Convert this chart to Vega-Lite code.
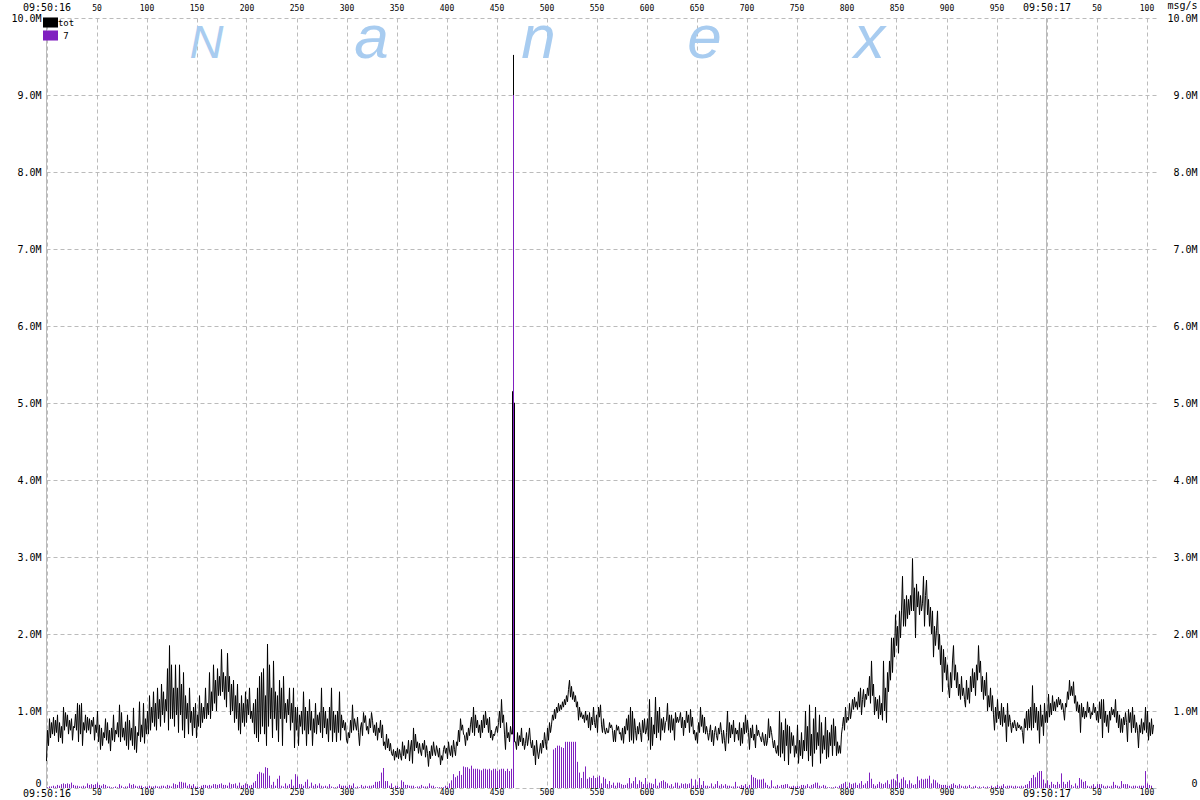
{"$schema":"https://vega.github.io/schema/vega-lite/v6.json","width":1110,"height":770,"autosize":"none","padding":{"left":46,"top":18,"right":44,"bottom":12},"background":"white","config":{"view":{"stroke":null},"font":"DejaVu Sans Mono"},
"datasets":{
"tot":[{"t":0,"v":0.35},{"t":1,"v":0.75},{"t":2,"v":0.55},{"t":3,"v":0.9},{"t":4,"v":0.65},{"t":5,"v":0.85},{"t":6,"v":0.7},{"t":7,"v":0.92},{"t":8,"v":0.68},{"t":9,"v":0.88},{"t":10,"v":0.72},{"t":11,"v":0.95},{"t":12,"v":0.6},{"t":13,"v":0.85},{"t":14,"v":0.65},{"t":15,"v":0.8},{"t":16,"v":0.58},{"t":17,"v":1.05},{"t":18,"v":0.75},{"t":19,"v":0.98},{"t":20,"v":0.8},{"t":21,"v":0.95},{"t":22,"v":0.7},{"t":23,"v":0.88},{"t":24,"v":0.75},{"t":25,"v":0.9},{"t":26,"v":0.62},{"t":27,"v":0.8},{"t":28,"v":0.78},{"t":29,"v":0.96},{"t":30,"v":0.75},{"t":31,"v":1.1},{"t":32,"v":0.6},{"t":33,"v":1.08},{"t":34,"v":0.7},{"t":35,"v":1.1},{"t":36,"v":0.55},{"t":37,"v":0.85},{"t":38,"v":0.75},{"t":39,"v":0.95},{"t":40,"v":0.72},{"t":41,"v":0.92},{"t":42,"v":0.75},{"t":43,"v":0.9},{"t":44,"v":0.7},{"t":45,"v":0.88},{"t":46,"v":0.8},{"t":47,"v":0.92},{"t":48,"v":0.62},{"t":49,"v":0.82},{"t":50,"v":0.72},{"t":51,"v":1.0},{"t":52,"v":0.6},{"t":53,"v":0.82},{"t":54,"v":0.5},{"t":55,"v":0.78},{"t":56,"v":0.55},{"t":57,"v":0.72},{"t":58,"v":0.65},{"t":59,"v":0.9},{"t":60,"v":0.62},{"t":61,"v":0.85},{"t":62,"v":0.58},{"t":63,"v":0.75},{"t":64,"v":0.48},{"t":65,"v":0.78},{"t":66,"v":0.62},{"t":67,"v":0.95},{"t":68,"v":0.6},{"t":69,"v":0.75},{"t":70,"v":0.7},{"t":71,"v":0.85},{"t":72,"v":0.66},{"t":73,"v":1.08},{"t":74,"v":0.6},{"t":75,"v":0.98},{"t":76,"v":0.66},{"t":77,"v":0.78},{"t":78,"v":0.62},{"t":79,"v":0.86},{"t":80,"v":0.55},{"t":81,"v":0.95},{"t":82,"v":0.5},{"t":83,"v":0.88},{"t":84,"v":0.62},{"t":85,"v":0.78},{"t":86,"v":0.55},{"t":87,"v":1.04},{"t":88,"v":0.5},{"t":89,"v":0.8},{"t":90,"v":0.46},{"t":91,"v":0.72},{"t":92,"v":0.68},{"t":93,"v":1.12},{"t":94,"v":0.6},{"t":95,"v":0.82},{"t":96,"v":0.66},{"t":97,"v":1.1},{"t":98,"v":0.58},{"t":99,"v":0.9},{"t":100,"v":0.7},{"t":101,"v":1.0},{"t":102,"v":0.7},{"t":103,"v":1.2},{"t":104,"v":0.75},{"t":105,"v":1.05},{"t":106,"v":0.85},{"t":107,"v":1.25},{"t":108,"v":0.8},{"t":109,"v":1.1},{"t":110,"v":0.75},{"t":111,"v":1.3},{"t":112,"v":0.9},{"t":113,"v":1.15},{"t":114,"v":0.8},{"t":115,"v":1.35},{"t":116,"v":0.95},{"t":117,"v":1.25},{"t":118,"v":0.85},{"t":119,"v":1.15},{"t":120,"v":1.0},{"t":121,"v":1.55},{"t":122,"v":0.75},{"t":123,"v":1.85},{"t":124,"v":0.9},{"t":125,"v":1.6},{"t":126,"v":0.9},{"t":127,"v":1.3},{"t":128,"v":0.8},{"t":129,"v":1.6},{"t":130,"v":0.95},{"t":131,"v":1.3},{"t":132,"v":0.72},{"t":133,"v":1.6},{"t":134,"v":0.95},{"t":135,"v":1.35},{"t":136,"v":0.75},{"t":137,"v":1.5},{"t":138,"v":0.65},{"t":139,"v":1.2},{"t":140,"v":0.9},{"t":141,"v":1.1},{"t":142,"v":0.7},{"t":143,"v":1.3},{"t":144,"v":0.85},{"t":145,"v":1.0},{"t":146,"v":0.68},{"t":147,"v":1.05},{"t":148,"v":0.78},{"t":149,"v":1.1},{"t":150,"v":0.65},{"t":151,"v":0.95},{"t":152,"v":0.8},{"t":153,"v":1.2},{"t":154,"v":0.78},{"t":155,"v":1.1},{"t":156,"v":0.85},{"t":157,"v":1.05},{"t":158,"v":0.9},{"t":159,"v":1.3},{"t":160,"v":0.9},{"t":161,"v":1.1},{"t":162,"v":0.95},{"t":163,"v":1.5},{"t":164,"v":0.9},{"t":165,"v":1.25},{"t":166,"v":1.0},{"t":167,"v":1.6},{"t":168,"v":1.1},{"t":169,"v":1.4},{"t":170,"v":1.0},{"t":171,"v":1.55},{"t":172,"v":1.2},{"t":173,"v":1.45},{"t":174,"v":1.2},{"t":175,"v":1.8},{"t":176,"v":1.25},{"t":177,"v":1.5},{"t":178,"v":1.15},{"t":179,"v":1.45},{"t":180,"v":1.05},{"t":181,"v":1.75},{"t":182,"v":1.25},{"t":183,"v":1.45},{"t":184,"v":0.95},{"t":185,"v":1.35},{"t":186,"v":1.0},{"t":187,"v":1.4},{"t":188,"v":0.85},{"t":189,"v":1.2},{"t":190,"v":0.9},{"t":191,"v":1.35},{"t":192,"v":0.75},{"t":193,"v":1.1},{"t":194,"v":0.7},{"t":195,"v":1.2},{"t":196,"v":0.85},{"t":197,"v":1.1},{"t":198,"v":0.8},{"t":199,"v":1.25},{"t":200,"v":0.85},{"t":201,"v":1.15},{"t":202,"v":0.95},{"t":203,"v":1.3},{"t":204,"v":0.9},{"t":205,"v":1.0},{"t":206,"v":0.85},{"t":207,"v":1.1},{"t":208,"v":0.7},{"t":209,"v":1.15},{"t":210,"v":0.65},{"t":211,"v":1.3},{"t":212,"v":0.6},{"t":213,"v":1.45},{"t":214,"v":0.7},{"t":215,"v":1.5},{"t":216,"v":0.8},{"t":217,"v":1.55},{"t":218,"v":0.7},{"t":219,"v":1.2},{"t":220,"v":0.55},{"t":221,"v":1.87},{"t":222,"v":0.8},{"t":223,"v":1.6},{"t":224,"v":0.9},{"t":225,"v":1.3},{"t":226,"v":0.65},{"t":227,"v":1.65},{"t":228,"v":0.9},{"t":229,"v":1.25},{"t":230,"v":0.75},{"t":231,"v":1.2},{"t":232,"v":0.6},{"t":233,"v":1.4},{"t":234,"v":0.9},{"t":235,"v":1.3},{"t":236,"v":0.55},{"t":237,"v":1.45},{"t":238,"v":0.9},{"t":239,"v":1.1},{"t":240,"v":0.85},{"t":241,"v":1.15},{"t":242,"v":0.95},{"t":243,"v":1.3},{"t":244,"v":0.75},{"t":245,"v":1.1},{"t":246,"v":0.85},{"t":247,"v":1.3},{"t":248,"v":0.52},{"t":249,"v":1.05},{"t":250,"v":0.75},{"t":251,"v":1.05},{"t":252,"v":0.55},{"t":253,"v":0.95},{"t":254,"v":0.8},{"t":255,"v":1.0},{"t":256,"v":0.7},{"t":257,"v":1.25},{"t":258,"v":0.75},{"t":259,"v":1.05},{"t":260,"v":0.55},{"t":261,"v":1.0},{"t":262,"v":0.7},{"t":263,"v":1.15},{"t":264,"v":0.75},{"t":265,"v":1.0},{"t":266,"v":0.55},{"t":267,"v":0.9},{"t":268,"v":0.72},{"t":269,"v":1.1},{"t":270,"v":0.7},{"t":271,"v":0.95},{"t":272,"v":0.82},{"t":273,"v":0.98},{"t":274,"v":0.72},{"t":275,"v":1.3},{"t":276,"v":0.65},{"t":277,"v":1.05},{"t":278,"v":0.78},{"t":279,"v":1.0},{"t":280,"v":0.7},{"t":281,"v":0.9},{"t":282,"v":0.6},{"t":283,"v":1.05},{"t":284,"v":0.75},{"t":285,"v":1.3},{"t":286,"v":0.6},{"t":287,"v":1.0},{"t":288,"v":0.72},{"t":289,"v":0.95},{"t":290,"v":0.6},{"t":291,"v":1.0},{"t":292,"v":0.72},{"t":293,"v":1.25},{"t":294,"v":0.62},{"t":295,"v":0.95},{"t":296,"v":0.78},{"t":297,"v":0.88},{"t":298,"v":0.75},{"t":299,"v":0.85},{"t":300,"v":0.62},{"t":301,"v":0.58},{"t":302,"v":0.72},{"t":303,"v":0.65},{"t":304,"v":0.88},{"t":305,"v":0.72},{"t":306,"v":1.08},{"t":307,"v":0.75},{"t":308,"v":0.9},{"t":309,"v":0.82},{"t":310,"v":0.75},{"t":311,"v":0.92},{"t":312,"v":0.72},{"t":313,"v":0.55},{"t":314,"v":0.78},{"t":315,"v":0.85},{"t":316,"v":0.68},{"t":317,"v":0.98},{"t":318,"v":0.85},{"t":319,"v":0.94},{"t":320,"v":0.75},{"t":321,"v":0.8},{"t":322,"v":0.7},{"t":323,"v":0.9},{"t":324,"v":0.78},{"t":325,"v":0.98},{"t":326,"v":0.88},{"t":327,"v":0.72},{"t":328,"v":0.82},{"t":329,"v":0.68},{"t":330,"v":0.85},{"t":331,"v":0.62},{"t":332,"v":0.78},{"t":333,"v":0.72},{"t":334,"v":0.88},{"t":335,"v":0.65},{"t":336,"v":0.82},{"t":337,"v":0.55},{"t":338,"v":0.6},{"t":339,"v":0.5},{"t":340,"v":0.7},{"t":341,"v":0.52},{"t":342,"v":0.64},{"t":343,"v":0.48},{"t":344,"v":0.58},{"t":345,"v":0.45},{"t":346,"v":0.42},{"t":347,"v":0.5},{"t":348,"v":0.36},{"t":349,"v":0.48},{"t":350,"v":0.4},{"t":351,"v":0.52},{"t":352,"v":0.38},{"t":353,"v":0.5},{"t":354,"v":0.42},{"t":355,"v":0.36},{"t":356,"v":0.6},{"t":357,"v":0.42},{"t":358,"v":0.55},{"t":359,"v":0.38},{"t":360,"v":0.5},{"t":361,"v":0.45},{"t":362,"v":0.62},{"t":363,"v":0.35},{"t":364,"v":0.52},{"t":365,"v":0.62},{"t":366,"v":0.32},{"t":367,"v":0.78},{"t":368,"v":0.48},{"t":369,"v":0.7},{"t":370,"v":0.52},{"t":371,"v":0.6},{"t":372,"v":0.45},{"t":373,"v":0.58},{"t":374,"v":0.48},{"t":375,"v":0.42},{"t":376,"v":0.58},{"t":377,"v":0.5},{"t":378,"v":0.62},{"t":379,"v":0.4},{"t":380,"v":0.55},{"t":381,"v":0.45},{"t":382,"v":0.28},{"t":383,"v":0.48},{"t":384,"v":0.38},{"t":385,"v":0.55},{"t":386,"v":0.42},{"t":387,"v":0.6},{"t":388,"v":0.48},{"t":389,"v":0.42},{"t":390,"v":0.55},{"t":391,"v":0.48},{"t":392,"v":0.4},{"t":393,"v":0.52},{"t":394,"v":0.3},{"t":395,"v":0.42},{"t":396,"v":0.36},{"t":397,"v":0.5},{"t":398,"v":0.55},{"t":399,"v":0.45},{"t":400,"v":0.52},{"t":401,"v":0.38},{"t":402,"v":0.6},{"t":403,"v":0.48},{"t":404,"v":0.42},{"t":405,"v":0.55},{"t":406,"v":0.4},{"t":407,"v":0.62},{"t":408,"v":0.5},{"t":409,"v":0.42},{"t":410,"v":0.6},{"t":411,"v":0.55},{"t":412,"v":0.75},{"t":413,"v":0.6},{"t":414,"v":0.9},{"t":415,"v":0.75},{"t":416,"v":0.82},{"t":417,"v":0.7},{"t":418,"v":0.68},{"t":419,"v":0.55},{"t":420,"v":0.72},{"t":421,"v":0.62},{"t":422,"v":0.78},{"t":423,"v":0.68},{"t":424,"v":0.82},{"t":425,"v":0.92},{"t":426,"v":0.72},{"t":427,"v":1.05},{"t":428,"v":0.68},{"t":429,"v":0.95},{"t":430,"v":0.78},{"t":431,"v":0.88},{"t":432,"v":0.72},{"t":433,"v":0.82},{"t":434,"v":0.65},{"t":435,"v":0.88},{"t":436,"v":0.72},{"t":437,"v":0.95},{"t":438,"v":0.78},{"t":439,"v":1.0},{"t":440,"v":0.82},{"t":441,"v":0.9},{"t":442,"v":0.72},{"t":443,"v":0.92},{"t":444,"v":0.65},{"t":445,"v":0.75},{"t":446,"v":0.62},{"t":447,"v":0.7},{"t":448,"v":0.68},{"t":449,"v":0.75},{"t":450,"v":0.8},{"t":451,"v":0.72},{"t":452,"v":0.85},{"t":453,"v":1.0},{"t":454,"v":0.78},{"t":455,"v":1.15},{"t":456,"v":0.85},{"t":457,"v":0.95},{"t":458,"v":0.7},{"t":459,"v":0.5},{"t":460,"v":0.85},{"t":461,"v":0.65},{"t":462,"v":0.72},{"t":463,"v":0.6},{"t":464,"v":0.8},{"t":465,"v":0.7},{"t":466,"v":0.7},{"t":466,"v":5.15},{"t":467,"v":5.15},{"t":467,"v":9.52},{"t":467,"v":5.0},{"t":468,"v":5.0},{"t":468,"v":0.6},{"t":469,"v":0.6},{"t":470,"v":0.5},{"t":471,"v":0.72},{"t":472,"v":0.55},{"t":473,"v":0.68},{"t":474,"v":0.6},{"t":475,"v":0.78},{"t":476,"v":0.55},{"t":477,"v":0.65},{"t":478,"v":0.5},{"t":479,"v":0.58},{"t":480,"v":0.72},{"t":481,"v":0.55},{"t":482,"v":0.65},{"t":483,"v":0.78},{"t":484,"v":0.6},{"t":485,"v":0.52},{"t":486,"v":0.62},{"t":487,"v":0.42},{"t":488,"v":0.55},{"t":489,"v":0.3},{"t":490,"v":0.62},{"t":491,"v":0.48},{"t":492,"v":0.38},{"t":493,"v":0.48},{"t":494,"v":0.58},{"t":495,"v":0.45},{"t":496,"v":0.62},{"t":497,"v":0.52},{"t":498,"v":0.72},{"t":499,"v":0.6},{"t":500,"v":0.5},{"t":501,"v":0.78},{"t":502,"v":0.62},{"t":503,"v":0.85},{"t":504,"v":0.72},{"t":505,"v":0.82},{"t":506,"v":0.95},{"t":507,"v":0.88},{"t":508,"v":1.02},{"t":509,"v":0.9},{"t":510,"v":1.05},{"t":511,"v":0.98},{"t":512,"v":1.1},{"t":513,"v":1.0},{"t":514,"v":1.08},{"t":515,"v":1.02},{"t":516,"v":1.12},{"t":517,"v":1.05},{"t":518,"v":1.15},{"t":519,"v":1.08},{"t":520,"v":1.2},{"t":521,"v":1.12},{"t":522,"v":1.28},{"t":523,"v":1.4},{"t":524,"v":1.18},{"t":525,"v":1.32},{"t":526,"v":1.15},{"t":527,"v":1.25},{"t":528,"v":1.12},{"t":529,"v":1.2},{"t":530,"v":1.05},{"t":531,"v":1.12},{"t":532,"v":0.88},{"t":533,"v":1.05},{"t":534,"v":0.92},{"t":535,"v":0.98},{"t":536,"v":0.9},{"t":537,"v":0.95},{"t":538,"v":0.85},{"t":539,"v":1.0},{"t":540,"v":0.88},{"t":541,"v":0.95},{"t":542,"v":0.78},{"t":543,"v":0.98},{"t":544,"v":0.75},{"t":545,"v":0.92},{"t":546,"v":0.82},{"t":547,"v":1.05},{"t":548,"v":0.85},{"t":549,"v":0.78},{"t":550,"v":0.95},{"t":551,"v":0.72},{"t":552,"v":1.05},{"t":553,"v":0.92},{"t":554,"v":1.08},{"t":555,"v":0.82},{"t":556,"v":0.72},{"t":557,"v":0.9},{"t":558,"v":0.75},{"t":559,"v":0.7},{"t":560,"v":0.78},{"t":561,"v":0.72},{"t":562,"v":0.72},{"t":563,"v":0.85},{"t":564,"v":0.78},{"t":565,"v":0.82},{"t":566,"v":0.75},{"t":567,"v":0.6},{"t":568,"v":0.75},{"t":569,"v":0.6},{"t":570,"v":0.82},{"t":571,"v":0.75},{"t":572,"v":0.8},{"t":573,"v":0.7},{"t":574,"v":0.72},{"t":575,"v":0.62},{"t":576,"v":0.78},{"t":577,"v":0.58},{"t":578,"v":0.8},{"t":579,"v":0.7},{"t":580,"v":0.9},{"t":581,"v":0.75},{"t":582,"v":0.95},{"t":583,"v":0.6},{"t":584,"v":1.05},{"t":585,"v":0.62},{"t":586,"v":1.0},{"t":587,"v":0.58},{"t":588,"v":0.9},{"t":589,"v":0.75},{"t":590,"v":0.62},{"t":591,"v":0.8},{"t":592,"v":0.7},{"t":593,"v":0.85},{"t":594,"v":0.72},{"t":595,"v":0.6},{"t":596,"v":0.88},{"t":597,"v":0.72},{"t":598,"v":0.9},{"t":599,"v":0.7},{"t":600,"v":0.75},{"t":601,"v":0.9},{"t":602,"v":0.62},{"t":603,"v":1.15},{"t":604,"v":0.5},{"t":605,"v":0.92},{"t":606,"v":0.55},{"t":607,"v":0.82},{"t":608,"v":0.7},{"t":609,"v":1.18},{"t":610,"v":0.65},{"t":611,"v":1.0},{"t":612,"v":0.72},{"t":613,"v":1.05},{"t":614,"v":0.62},{"t":615,"v":0.9},{"t":616,"v":0.75},{"t":617,"v":0.92},{"t":618,"v":0.72},{"t":619,"v":0.85},{"t":620,"v":0.88},{"t":621,"v":1.1},{"t":622,"v":0.75},{"t":623,"v":0.95},{"t":624,"v":0.72},{"t":625,"v":0.95},{"t":626,"v":0.75},{"t":627,"v":0.9},{"t":628,"v":0.62},{"t":629,"v":0.98},{"t":630,"v":0.85},{"t":631,"v":0.92},{"t":632,"v":0.85},{"t":633,"v":0.9},{"t":634,"v":0.98},{"t":635,"v":0.78},{"t":636,"v":0.92},{"t":637,"v":0.68},{"t":638,"v":0.88},{"t":639,"v":0.78},{"t":640,"v":1.0},{"t":641,"v":0.85},{"t":642,"v":0.95},{"t":643,"v":0.72},{"t":644,"v":1.02},{"t":645,"v":0.8},{"t":646,"v":0.92},{"t":647,"v":0.7},{"t":648,"v":0.75},{"t":649,"v":0.62},{"t":650,"v":0.72},{"t":651,"v":0.58},{"t":652,"v":0.85},{"t":653,"v":0.72},{"t":654,"v":1.05},{"t":655,"v":0.8},{"t":656,"v":0.95},{"t":657,"v":0.72},{"t":658,"v":0.92},{"t":659,"v":0.7},{"t":660,"v":0.8},{"t":661,"v":0.72},{"t":662,"v":0.62},{"t":663,"v":0.72},{"t":664,"v":0.82},{"t":665,"v":0.6},{"t":666,"v":0.75},{"t":667,"v":0.55},{"t":668,"v":0.72},{"t":669,"v":0.8},{"t":670,"v":0.68},{"t":671,"v":0.62},{"t":672,"v":0.78},{"t":673,"v":0.7},{"t":674,"v":0.85},{"t":675,"v":0.72},{"t":676,"v":0.58},{"t":677,"v":0.75},{"t":678,"v":0.62},{"t":679,"v":0.48},{"t":680,"v":0.72},{"t":681,"v":1.0},{"t":682,"v":0.58},{"t":683,"v":0.85},{"t":684,"v":0.65},{"t":685,"v":0.82},{"t":686,"v":0.7},{"t":687,"v":0.88},{"t":688,"v":0.6},{"t":689,"v":0.78},{"t":690,"v":0.7},{"t":691,"v":0.75},{"t":692,"v":0.62},{"t":693,"v":0.85},{"t":694,"v":0.55},{"t":695,"v":0.78},{"t":696,"v":0.58},{"t":697,"v":0.85},{"t":698,"v":0.7},{"t":699,"v":0.95},{"t":700,"v":0.72},{"t":701,"v":0.88},{"t":702,"v":0.72},{"t":703,"v":0.5},{"t":704,"v":0.78},{"t":705,"v":0.65},{"t":706,"v":0.82},{"t":707,"v":0.62},{"t":708,"v":0.7},{"t":709,"v":0.52},{"t":710,"v":0.82},{"t":711,"v":0.68},{"t":712,"v":0.75},{"t":713,"v":0.68},{"t":714,"v":0.65},{"t":715,"v":0.6},{"t":716,"v":0.72},{"t":717,"v":0.62},{"t":718,"v":0.55},{"t":719,"v":0.7},{"t":720,"v":0.55},{"t":721,"v":0.62},{"t":722,"v":0.9},{"t":723,"v":0.65},{"t":724,"v":0.8},{"t":725,"v":0.72},{"t":726,"v":0.62},{"t":727,"v":0.52},{"t":728,"v":0.62},{"t":729,"v":0.5},{"t":730,"v":0.45},{"t":731,"v":0.55},{"t":732,"v":0.42},{"t":733,"v":1.0},{"t":734,"v":0.4},{"t":735,"v":0.85},{"t":736,"v":0.45},{"t":737,"v":0.75},{"t":738,"v":0.35},{"t":739,"v":0.9},{"t":740,"v":0.55},{"t":741,"v":0.82},{"t":742,"v":0.3},{"t":743,"v":0.8},{"t":744,"v":0.45},{"t":745,"v":0.72},{"t":746,"v":0.55},{"t":747,"v":0.68},{"t":748,"v":0.4},{"t":749,"v":0.55},{"t":750,"v":0.45},{"t":751,"v":0.82},{"t":752,"v":0.32},{"t":753,"v":0.62},{"t":754,"v":0.42},{"t":755,"v":0.72},{"t":756,"v":0.38},{"t":757,"v":0.62},{"t":758,"v":0.48},{"t":759,"v":1.0},{"t":760,"v":0.48},{"t":761,"v":0.8},{"t":762,"v":0.35},{"t":763,"v":1.08},{"t":764,"v":0.42},{"t":765,"v":0.7},{"t":766,"v":0.28},{"t":767,"v":0.9},{"t":768,"v":0.45},{"t":769,"v":1.05},{"t":770,"v":0.5},{"t":771,"v":0.72},{"t":772,"v":0.55},{"t":773,"v":0.95},{"t":774,"v":0.32},{"t":775,"v":0.85},{"t":776,"v":0.45},{"t":777,"v":0.68},{"t":778,"v":0.5},{"t":779,"v":0.92},{"t":780,"v":0.38},{"t":781,"v":0.75},{"t":782,"v":0.4},{"t":783,"v":0.72},{"t":784,"v":0.55},{"t":785,"v":0.82},{"t":786,"v":0.42},{"t":787,"v":0.9},{"t":788,"v":0.55},{"t":789,"v":0.8},{"t":790,"v":0.42},{"t":791,"v":0.6},{"t":792,"v":0.45},{"t":793,"v":0.55},{"t":794,"v":0.45},{"t":795,"v":0.7},{"t":796,"v":0.8},{"t":797,"v":0.92},{"t":798,"v":0.75},{"t":799,"v":1.05},{"t":800,"v":0.85},{"t":801,"v":0.92},{"t":802,"v":0.88},{"t":803,"v":1.1},{"t":804,"v":0.9},{"t":805,"v":1.0},{"t":806,"v":1.15},{"t":807,"v":1.02},{"t":808,"v":1.18},{"t":809,"v":1.05},{"t":810,"v":1.12},{"t":811,"v":1.02},{"t":812,"v":1.25},{"t":813,"v":1.05},{"t":814,"v":1.3},{"t":815,"v":0.95},{"t":816,"v":1.15},{"t":817,"v":1.28},{"t":818,"v":1.05},{"t":819,"v":1.22},{"t":820,"v":1.15},{"t":821,"v":1.3},{"t":822,"v":1.2},{"t":823,"v":1.45},{"t":824,"v":1.1},{"t":825,"v":1.65},{"t":826,"v":1.2},{"t":827,"v":1.35},{"t":828,"v":0.95},{"t":829,"v":1.18},{"t":830,"v":1.0},{"t":831,"v":1.15},{"t":832,"v":0.9},{"t":833,"v":1.2},{"t":834,"v":0.95},{"t":835,"v":1.1},{"t":836,"v":0.88},{"t":837,"v":1.65},{"t":838,"v":1.0},{"t":839,"v":1.3},{"t":840,"v":0.85},{"t":841,"v":1.5},{"t":842,"v":1.25},{"t":843,"v":1.65},{"t":844,"v":1.4},{"t":845,"v":1.95},{"t":846,"v":1.5},{"t":847,"v":1.95},{"t":848,"v":1.7},{"t":849,"v":2.25},{"t":850,"v":1.85},{"t":851,"v":2.1},{"t":852,"v":1.75},{"t":853,"v":2.3},{"t":854,"v":1.95},{"t":855,"v":2.3},{"t":856,"v":2.75},{"t":857,"v":2.1},{"t":858,"v":2.45},{"t":859,"v":2.1},{"t":860,"v":2.5},{"t":861,"v":2.2},{"t":862,"v":2.45},{"t":863,"v":2.25},{"t":864,"v":2.5},{"t":865,"v":2.3},{"t":866,"v":2.98},{"t":867,"v":2.3},{"t":868,"v":2.6},{"t":869,"v":1.95},{"t":870,"v":2.65},{"t":871,"v":2.35},{"t":872,"v":2.55},{"t":873,"v":2.25},{"t":874,"v":2.5},{"t":875,"v":2.3},{"t":876,"v":2.4},{"t":877,"v":2.75},{"t":878,"v":2.1},{"t":879,"v":2.5},{"t":880,"v":2.7},{"t":881,"v":2.25},{"t":882,"v":2.45},{"t":883,"v":2.1},{"t":884,"v":2.35},{"t":885,"v":2.0},{"t":886,"v":2.3},{"t":887,"v":1.7},{"t":888,"v":2.1},{"t":889,"v":1.85},{"t":890,"v":2.05},{"t":891,"v":2.3},{"t":892,"v":1.8},{"t":893,"v":2.0},{"t":894,"v":1.6},{"t":895,"v":1.85},{"t":896,"v":1.25},{"t":897,"v":1.8},{"t":898,"v":1.5},{"t":899,"v":1.7},{"t":900,"v":1.4},{"t":901,"v":1.6},{"t":902,"v":1.3},{"t":903,"v":1.17},{"t":904,"v":1.5},{"t":905,"v":1.3},{"t":906,"v":1.65},{"t":907,"v":1.85},{"t":908,"v":1.4},{"t":909,"v":1.6},{"t":910,"v":1.3},{"t":911,"v":1.5},{"t":912,"v":1.2},{"t":913,"v":1.35},{"t":914,"v":1.15},{"t":915,"v":1.45},{"t":916,"v":1.2},{"t":917,"v":1.3},{"t":918,"v":1.15},{"t":919,"v":1.05},{"t":920,"v":1.4},{"t":921,"v":1.15},{"t":922,"v":1.3},{"t":923,"v":1.1},{"t":924,"v":1.45},{"t":925,"v":1.25},{"t":926,"v":1.55},{"t":927,"v":1.3},{"t":928,"v":1.5},{"t":929,"v":1.2},{"t":930,"v":1.6},{"t":931,"v":1.4},{"t":932,"v":1.85},{"t":933,"v":1.5},{"t":934,"v":1.65},{"t":935,"v":1.25},{"t":936,"v":1.45},{"t":937,"v":1.15},{"t":938,"v":1.4},{"t":939,"v":1.2},{"t":940,"v":1.5},{"t":941,"v":1.0},{"t":942,"v":1.2},{"t":943,"v":1.05},{"t":944,"v":1.3},{"t":945,"v":1.0},{"t":946,"v":1.2},{"t":947,"v":0.95},{"t":948,"v":0.75},{"t":949,"v":1.05},{"t":950,"v":0.85},{"t":951,"v":1.15},{"t":952,"v":0.9},{"t":953,"v":1.0},{"t":954,"v":0.82},{"t":955,"v":1.1},{"t":956,"v":0.8},{"t":957,"v":1.05},{"t":958,"v":0.85},{"t":959,"v":0.95},{"t":960,"v":0.6},{"t":961,"v":1.1},{"t":962,"v":0.8},{"t":963,"v":0.95},{"t":964,"v":0.85},{"t":965,"v":0.72},{"t":966,"v":0.85},{"t":967,"v":0.78},{"t":968,"v":0.88},{"t":969,"v":0.8},{"t":970,"v":0.74},{"t":971,"v":0.85},{"t":972,"v":0.78},{"t":973,"v":0.82},{"t":974,"v":0.76},{"t":975,"v":0.8},{"t":976,"v":0.72},{"t":977,"v":0.58},{"t":978,"v":0.9},{"t":979,"v":0.78},{"t":980,"v":1.0},{"t":981,"v":0.75},{"t":982,"v":1.02},{"t":983,"v":0.78},{"t":984,"v":1.05},{"t":985,"v":0.75},{"t":986,"v":1.33},{"t":987,"v":0.78},{"t":988,"v":1.1},{"t":989,"v":0.85},{"t":990,"v":1.05},{"t":991,"v":0.75},{"t":992,"v":1.0},{"t":993,"v":0.58},{"t":994,"v":1.08},{"t":995,"v":0.8},{"t":996,"v":0.95},{"t":997,"v":0.68},{"t":998,"v":1.1},{"t":999,"v":0.85},{"t":1000,"v":1.0},{"t":1001,"v":0.85},{"t":1002,"v":1.22},{"t":1003,"v":0.92},{"t":1004,"v":1.1},{"t":1005,"v":0.95},{"t":1006,"v":1.2},{"t":1007,"v":1.0},{"t":1008,"v":1.12},{"t":1009,"v":1.0},{"t":1010,"v":1.15},{"t":1011,"v":1.05},{"t":1012,"v":1.18},{"t":1013,"v":1.08},{"t":1014,"v":1.15},{"t":1015,"v":1.02},{"t":1016,"v":1.1},{"t":1017,"v":1.0},{"t":1018,"v":0.88},{"t":1019,"v":1.1},{"t":1020,"v":1.05},{"t":1021,"v":1.25},{"t":1022,"v":1.15},{"t":1023,"v":1.4},{"t":1024,"v":1.2},{"t":1025,"v":1.32},{"t":1026,"v":1.2},{"t":1027,"v":1.38},{"t":1028,"v":1.1},{"t":1029,"v":1.2},{"t":1030,"v":1.0},{"t":1031,"v":1.12},{"t":1032,"v":0.98},{"t":1033,"v":1.08},{"t":1034,"v":0.72},{"t":1035,"v":1.1},{"t":1036,"v":0.92},{"t":1037,"v":1.05},{"t":1038,"v":0.9},{"t":1039,"v":1.0},{"t":1040,"v":0.92},{"t":1041,"v":1.12},{"t":1042,"v":0.98},{"t":1043,"v":1.05},{"t":1044,"v":0.9},{"t":1045,"v":0.98},{"t":1046,"v":0.95},{"t":1047,"v":1.1},{"t":1048,"v":0.98},{"t":1049,"v":1.05},{"t":1050,"v":0.88},{"t":1051,"v":1.0},{"t":1052,"v":0.85},{"t":1053,"v":1.12},{"t":1054,"v":0.9},{"t":1055,"v":1.15},{"t":1056,"v":0.65},{"t":1057,"v":1.15},{"t":1058,"v":0.85},{"t":1059,"v":1.0},{"t":1060,"v":0.8},{"t":1061,"v":0.95},{"t":1062,"v":0.72},{"t":1063,"v":1.0},{"t":1064,"v":0.88},{"t":1065,"v":1.05},{"t":1066,"v":0.95},{"t":1067,"v":1.02},{"t":1068,"v":0.92},{"t":1069,"v":1.15},{"t":1070,"v":0.85},{"t":1071,"v":1.0},{"t":1072,"v":0.78},{"t":1073,"v":0.95},{"t":1074,"v":0.72},{"t":1075,"v":0.9},{"t":1076,"v":0.72},{"t":1077,"v":0.92},{"t":1078,"v":0.82},{"t":1079,"v":0.98},{"t":1080,"v":0.85},{"t":1081,"v":0.6},{"t":1082,"v":1.02},{"t":1083,"v":0.85},{"t":1084,"v":0.98},{"t":1085,"v":0.72},{"t":1086,"v":1.05},{"t":1087,"v":0.78},{"t":1088,"v":0.95},{"t":1089,"v":0.72},{"t":1090,"v":0.85},{"t":1091,"v":0.75},{"t":1092,"v":0.52},{"t":1093,"v":0.82},{"t":1094,"v":0.72},{"t":1095,"v":0.9},{"t":1096,"v":0.7},{"t":1097,"v":0.85},{"t":1098,"v":0.75},{"t":1099,"v":1.05},{"t":1100,"v":0.72},{"t":1101,"v":1.0},{"t":1102,"v":0.62},{"t":1103,"v":0.85},{"t":1104,"v":0.68},{"t":1105,"v":0.9},{"t":1106,"v":0.7},{"t":1107,"v":0.82}],
"s7":[{"t":1,"v":0.01},{"t":3,"v":0.02},{"t":5,"v":0.02},{"t":7,"v":0.03},{"t":9,"v":0.02},{"t":11,"v":0.04},{"t":13,"v":0.03},{"t":15,"v":0.05},{"t":17,"v":0.06},{"t":19,"v":0.05},{"t":21,"v":0.06},{"t":23,"v":0.05},{"t":25,"v":0.07},{"t":27,"v":0.04},{"t":29,"v":0.03},{"t":31,"v":0.03},{"t":33,"v":0.02},{"t":35,"v":0.02},{"t":37,"v":0.03},{"t":39,"v":0.02},{"t":41,"v":0.06},{"t":43,"v":0.04},{"t":45,"v":0.05},{"t":47,"v":0.04},{"t":49,"v":0.05},{"t":51,"v":0.07},{"t":53,"v":0.04},{"t":55,"v":0.03},{"t":57,"v":0.05},{"t":59,"v":0.04},{"t":61,"v":0.02},{"t":63,"v":0.02},{"t":65,"v":0.01},{"t":67,"v":0.01},{"t":69,"v":0.02},{"t":71,"v":0.01},{"t":73,"v":0.05},{"t":75,"v":0.03},{"t":77,"v":0.01},{"t":79,"v":0.02},{"t":81,"v":0.02},{"t":83,"v":0.06},{"t":85,"v":0.04},{"t":87,"v":0.05},{"t":89,"v":0.03},{"t":91,"v":0.02},{"t":93,"v":0.03},{"t":95,"v":0.03},{"t":97,"v":0.01},{"t":99,"v":0.02},{"t":101,"v":0.02},{"t":103,"v":0.03},{"t":105,"v":0.02},{"t":107,"v":0.02},{"t":109,"v":0.03},{"t":111,"v":0.02},{"t":113,"v":0.02},{"t":115,"v":0.03},{"t":117,"v":0.03},{"t":119,"v":0.02},{"t":121,"v":0.04},{"t":123,"v":0.03},{"t":125,"v":0.02},{"t":127,"v":0.06},{"t":129,"v":0.05},{"t":131,"v":0.04},{"t":133,"v":0.08},{"t":135,"v":0.08},{"t":137,"v":0.07},{"t":139,"v":0.07},{"t":141,"v":0.03},{"t":143,"v":0.05},{"t":145,"v":0.03},{"t":147,"v":0.05},{"t":149,"v":0.02},{"t":151,"v":0.02},{"t":153,"v":0.01},{"t":155,"v":0.03},{"t":157,"v":0.04},{"t":159,"v":0.04},{"t":161,"v":0.03},{"t":163,"v":0.04},{"t":165,"v":0.03},{"t":167,"v":0.05},{"t":169,"v":0.05},{"t":171,"v":0.04},{"t":173,"v":0.05},{"t":175,"v":0.06},{"t":177,"v":0.04},{"t":179,"v":0.04},{"t":181,"v":0.03},{"t":183,"v":0.07},{"t":185,"v":0.05},{"t":187,"v":0.05},{"t":189,"v":0.06},{"t":191,"v":0.03},{"t":193,"v":0.07},{"t":195,"v":0.03},{"t":197,"v":0.04},{"t":199,"v":0.06},{"t":201,"v":0.05},{"t":203,"v":0.03},{"t":205,"v":0.04},{"t":207,"v":0.07},{"t":209,"v":0.09},{"t":211,"v":0.18},{"t":213,"v":0.21},{"t":215,"v":0.2},{"t":217,"v":0.19},{"t":219,"v":0.27},{"t":221,"v":0.26},{"t":223,"v":0.16},{"t":225,"v":0.04},{"t":227,"v":0.08},{"t":229,"v":0.03},{"t":231,"v":0.12},{"t":233,"v":0.16},{"t":235,"v":0.03},{"t":237,"v":0.02},{"t":239,"v":0.06},{"t":241,"v":0.03},{"t":243,"v":0.05},{"t":245,"v":0.11},{"t":247,"v":0.03},{"t":249,"v":0.18},{"t":251,"v":0.15},{"t":253,"v":0.05},{"t":255,"v":0.05},{"t":257,"v":0.03},{"t":259,"v":0.08},{"t":261,"v":0.11},{"t":263,"v":0.02},{"t":265,"v":0.07},{"t":267,"v":0.03},{"t":269,"v":0.05},{"t":271,"v":0.03},{"t":273,"v":0.06},{"t":275,"v":0.03},{"t":277,"v":0.02},{"t":279,"v":0.03},{"t":281,"v":0.02},{"t":283,"v":0.05},{"t":285,"v":0.02},{"t":287,"v":0.01},{"t":289,"v":0.01},{"t":291,"v":0.02},{"t":293,"v":0.05},{"t":295,"v":0.03},{"t":297,"v":0.03},{"t":299,"v":0.03},{"t":301,"v":0.02},{"t":303,"v":0.04},{"t":305,"v":0.03},{"t":307,"v":0.06},{"t":309,"v":0.01},{"t":311,"v":0.02},{"t":313,"v":0.01},{"t":315,"v":0.04},{"t":317,"v":0.02},{"t":319,"v":0.03},{"t":321,"v":0.02},{"t":323,"v":0.03},{"t":325,"v":0.03},{"t":327,"v":0.04},{"t":329,"v":0.08},{"t":331,"v":0.08},{"t":333,"v":0.09},{"t":335,"v":0.2},{"t":337,"v":0.26},{"t":339,"v":0.09},{"t":341,"v":0.09},{"t":343,"v":0.03},{"t":345,"v":0.06},{"t":347,"v":0.01},{"t":349,"v":0.03},{"t":351,"v":0.03},{"t":353,"v":0.01},{"t":355,"v":0.1},{"t":357,"v":0.08},{"t":359,"v":0.04},{"t":361,"v":0.04},{"t":363,"v":0.03},{"t":365,"v":0.03},{"t":367,"v":0.03},{"t":369,"v":0.01},{"t":371,"v":0.02},{"t":373,"v":0.02},{"t":375,"v":0.04},{"t":377,"v":0.02},{"t":379,"v":0.02},{"t":381,"v":0.02},{"t":383,"v":0.06},{"t":385,"v":0.03},{"t":387,"v":0.03},{"t":389,"v":0.01},{"t":391,"v":0.01},{"t":393,"v":0.01},{"t":395,"v":0.01},{"t":397,"v":0.01},{"t":399,"v":0.03},{"t":401,"v":0.02},{"t":403,"v":0.06},{"t":405,"v":0.1},{"t":407,"v":0.18},{"t":409,"v":0.14},{"t":411,"v":0.16},{"t":413,"v":0.22},{"t":415,"v":0.17},{"t":417,"v":0.28},{"t":419,"v":0.27},{"t":421,"v":0.27},{"t":423,"v":0.25},{"t":425,"v":0.29},{"t":427,"v":0.25},{"t":429,"v":0.25},{"t":431,"v":0.25},{"t":433,"v":0.24},{"t":435,"v":0.23},{"t":437,"v":0.25},{"t":439,"v":0.25},{"t":441,"v":0.24},{"t":443,"v":0.25},{"t":445,"v":0.23},{"t":447,"v":0.25},{"t":449,"v":0.25},{"t":451,"v":0.22},{"t":453,"v":0.24},{"t":455,"v":0.25},{"t":457,"v":0.25},{"t":459,"v":0.22},{"t":461,"v":0.25},{"t":463,"v":0.22},{"t":465,"v":0.25},{"t":467,"v":9.0},{"t":507,"v":0.5},{"t":509,"v":0.52},{"t":511,"v":0.55},{"t":513,"v":0.55},{"t":515,"v":0.53},{"t":517,"v":0.52},{"t":519,"v":0.6},{"t":521,"v":0.6},{"t":523,"v":0.6},{"t":525,"v":0.6},{"t":527,"v":0.6},{"t":529,"v":0.6},{"t":531,"v":0.34},{"t":533,"v":0.2},{"t":535,"v":0.13},{"t":537,"v":0.21},{"t":539,"v":0.28},{"t":541,"v":0.12},{"t":543,"v":0.14},{"t":545,"v":0.13},{"t":547,"v":0.16},{"t":549,"v":0.13},{"t":551,"v":0.14},{"t":553,"v":0.16},{"t":555,"v":0.06},{"t":557,"v":0.14},{"t":559,"v":0.12},{"t":561,"v":0.05},{"t":563,"v":0.09},{"t":565,"v":0.04},{"t":567,"v":0.07},{"t":569,"v":0.03},{"t":571,"v":0.07},{"t":573,"v":0.07},{"t":575,"v":0.05},{"t":577,"v":0.04},{"t":579,"v":0.04},{"t":581,"v":0.06},{"t":583,"v":0.13},{"t":585,"v":0.06},{"t":587,"v":0.09},{"t":589,"v":0.14},{"t":591,"v":0.05},{"t":593,"v":0.1},{"t":595,"v":0.08},{"t":597,"v":0.05},{"t":599,"v":0.13},{"t":601,"v":0.05},{"t":603,"v":0.07},{"t":605,"v":0.06},{"t":607,"v":0.05},{"t":609,"v":0.12},{"t":611,"v":0.03},{"t":613,"v":0.07},{"t":615,"v":0.09},{"t":617,"v":0.1},{"t":619,"v":0.08},{"t":621,"v":0.06},{"t":623,"v":0.03},{"t":625,"v":0.05},{"t":627,"v":0.02},{"t":629,"v":0.07},{"t":631,"v":0.07},{"t":633,"v":0.03},{"t":635,"v":0.06},{"t":637,"v":0.05},{"t":639,"v":0.06},{"t":641,"v":0.05},{"t":643,"v":0.06},{"t":645,"v":0.12},{"t":647,"v":0.03},{"t":649,"v":0.11},{"t":651,"v":0.04},{"t":653,"v":0.13},{"t":655,"v":0.04},{"t":657,"v":0.09},{"t":659,"v":0.03},{"t":661,"v":0.03},{"t":663,"v":0.02},{"t":665,"v":0.06},{"t":667,"v":0.02},{"t":669,"v":0.05},{"t":671,"v":0.09},{"t":673,"v":0.03},{"t":675,"v":0.05},{"t":677,"v":0.03},{"t":679,"v":0.05},{"t":681,"v":0.03},{"t":683,"v":0.03},{"t":685,"v":0.02},{"t":687,"v":0.02},{"t":689,"v":0.08},{"t":691,"v":0.02},{"t":693,"v":0.02},{"t":695,"v":0.04},{"t":697,"v":0.03},{"t":699,"v":0.05},{"t":701,"v":0.02},{"t":703,"v":0.04},{"t":705,"v":0.17},{"t":707,"v":0.14},{"t":709,"v":0.13},{"t":711,"v":0.11},{"t":713,"v":0.11},{"t":715,"v":0.11},{"t":717,"v":0.12},{"t":719,"v":0.07},{"t":721,"v":0.04},{"t":723,"v":0.02},{"t":725,"v":0.1},{"t":727,"v":0.02},{"t":729,"v":0.02},{"t":731,"v":0.04},{"t":733,"v":0.02},{"t":735,"v":0.04},{"t":737,"v":0.04},{"t":739,"v":0.05},{"t":741,"v":0.05},{"t":743,"v":0.02},{"t":745,"v":0.02},{"t":747,"v":0.03},{"t":749,"v":0.02},{"t":751,"v":0.03},{"t":753,"v":0.02},{"t":755,"v":0.04},{"t":757,"v":0.04},{"t":759,"v":0.03},{"t":761,"v":0.05},{"t":763,"v":0.02},{"t":765,"v":0.04},{"t":767,"v":0.05},{"t":769,"v":0.07},{"t":771,"v":0.07},{"t":773,"v":0.03},{"t":775,"v":0.02},{"t":777,"v":0.04},{"t":779,"v":0.03},{"t":781,"v":0.01},{"t":783,"v":0.01},{"t":785,"v":0.01},{"t":787,"v":0.01},{"t":789,"v":0.02},{"t":791,"v":0.01},{"t":793,"v":0.03},{"t":795,"v":0.05},{"t":797,"v":0.06},{"t":799,"v":0.08},{"t":801,"v":0.02},{"t":803,"v":0.07},{"t":805,"v":0.05},{"t":807,"v":0.06},{"t":809,"v":0.07},{"t":811,"v":0.04},{"t":813,"v":0.06},{"t":815,"v":0.09},{"t":817,"v":0.04},{"t":819,"v":0.06},{"t":821,"v":0.09},{"t":823,"v":0.2},{"t":825,"v":0.12},{"t":827,"v":0.05},{"t":829,"v":0.03},{"t":831,"v":0.05},{"t":833,"v":0.08},{"t":835,"v":0.06},{"t":837,"v":0.05},{"t":839,"v":0.07},{"t":841,"v":0.1},{"t":843,"v":0.05},{"t":845,"v":0.11},{"t":847,"v":0.12},{"t":849,"v":0.1},{"t":851,"v":0.18},{"t":853,"v":0.07},{"t":855,"v":0.12},{"t":857,"v":0.14},{"t":859,"v":0.1},{"t":861,"v":0.05},{"t":863,"v":0.1},{"t":865,"v":0.06},{"t":867,"v":0.04},{"t":869,"v":0.05},{"t":871,"v":0.15},{"t":873,"v":0.1},{"t":875,"v":0.12},{"t":877,"v":0.11},{"t":879,"v":0.12},{"t":881,"v":0.12},{"t":883,"v":0.16},{"t":885,"v":0.06},{"t":887,"v":0.11},{"t":889,"v":0.1},{"t":891,"v":0.07},{"t":893,"v":0.05},{"t":895,"v":0.04},{"t":897,"v":0.04},{"t":899,"v":0.04},{"t":901,"v":0.03},{"t":903,"v":0.03},{"t":905,"v":0.05},{"t":907,"v":0.06},{"t":909,"v":0.04},{"t":911,"v":0.03},{"t":913,"v":0.05},{"t":915,"v":0.03},{"t":917,"v":0.02},{"t":919,"v":0.03},{"t":921,"v":0.02},{"t":923,"v":0.04},{"t":925,"v":0.01},{"t":927,"v":0.02},{"t":929,"v":0.03},{"t":931,"v":0.01},{"t":933,"v":0.02},{"t":935,"v":0.01},{"t":937,"v":0.02},{"t":939,"v":0.01},{"t":941,"v":0.02},{"t":943,"v":0.01},{"t":945,"v":0.03},{"t":947,"v":0.01},{"t":949,"v":0.02},{"t":951,"v":0.04},{"t":953,"v":0.02},{"t":955,"v":0.03},{"t":957,"v":0.05},{"t":959,"v":0.02},{"t":961,"v":0.03},{"t":963,"v":0.03},{"t":965,"v":0.03},{"t":967,"v":0.02},{"t":969,"v":0.03},{"t":971,"v":0.02},{"t":973,"v":0.02},{"t":975,"v":0.03},{"t":977,"v":0.02},{"t":979,"v":0.04},{"t":981,"v":0.05},{"t":983,"v":0.09},{"t":985,"v":0.13},{"t":987,"v":0.17},{"t":989,"v":0.14},{"t":991,"v":0.2},{"t":993,"v":0.22},{"t":995,"v":0.22},{"t":997,"v":0.11},{"t":999,"v":0.06},{"t":1001,"v":0.1},{"t":1003,"v":0.04},{"t":1005,"v":0.08},{"t":1007,"v":0.05},{"t":1009,"v":0.04},{"t":1011,"v":0.08},{"t":1013,"v":0.05},{"t":1015,"v":0.19},{"t":1017,"v":0.08},{"t":1019,"v":0.05},{"t":1021,"v":0.08},{"t":1023,"v":0.1},{"t":1025,"v":0.04},{"t":1027,"v":0.02},{"t":1029,"v":0.06},{"t":1031,"v":0.03},{"t":1033,"v":0.13},{"t":1035,"v":0.11},{"t":1037,"v":0.08},{"t":1039,"v":0.09},{"t":1041,"v":0.03},{"t":1043,"v":0.02},{"t":1045,"v":0.03},{"t":1047,"v":0.05},{"t":1049,"v":0.02},{"t":1051,"v":0.05},{"t":1053,"v":0.05},{"t":1055,"v":0.05},{"t":1057,"v":0.03},{"t":1059,"v":0.02},{"t":1061,"v":0.03},{"t":1063,"v":0.02},{"t":1065,"v":0.03},{"t":1067,"v":0.08},{"t":1069,"v":0.04},{"t":1071,"v":0.03},{"t":1073,"v":0.02},{"t":1075,"v":0.09},{"t":1077,"v":0.05},{"t":1079,"v":0.05},{"t":1081,"v":0.05},{"t":1083,"v":0.03},{"t":1085,"v":0.02},{"t":1087,"v":0.03},{"t":1089,"v":0.03},{"t":1091,"v":0.02},{"t":1093,"v":0.03},{"t":1095,"v":0.03},{"t":1097,"v":0.03},{"t":1099,"v":0.22},{"t":1101,"v":0.06},{"t":1103,"v":0.04},{"t":1105,"v":0.03}],
"marks":[{"t":0},{"t":1000}],
"cap":[{"c":"N","t":160}],
"low":[{"c":"a","t":325},{"c":"n","t":492},{"c":"e","t":658},{"c":"x","t":823}]
},
"layer":[
{"data":{"name":"marks"},"mark":{"type":"rule","color":"#bbbbbb","strokeWidth":1},"encoding":{
"x":{"field":"t","type":"quantitative","scale":{"domain":[-0.5,1109.5],"nice":false,"zero":false},"axis":{"orient":"bottom","values":[0,50,100,150,200,250,300,350,400,450,500,550,600,650,700,750,800,850,900,950,1000,1050,1100],"labelExpr":"datum.value==0?'09:50:16':datum.value==1000?'09:50:17':datum.value>1000?format(datum.value-1000,'d'):format(datum.value,'d')","labelFont":"DejaVu Sans Mono","labelFontSize":{"condition":{"test":"datum.value==0||datum.value==1000","value":10},"value":8},"labelColor":"#000","labelPadding":0,"labelOverlap":false,"labelFlush":false,"tickSize":0,"domain":false,"title":null,"grid":true,"gridColor":"#bbbbbb","gridDash":[4,3],"gridWidth":1}},
"y":{"datum":0,"type":"quantitative","scale":{"domain":[0,10],"nice":false,"zero":false},"axis":{"orient":"left","values":[0,1,2,3,4,5,6,7,8,9,10],"labelExpr":"datum.value==0?'0':format(datum.value,'.1f')+'M'","labelFont":"DejaVu Sans Mono","labelFontSize":10,"labelColor":"#000","labelBaseline":{"condition":{"test":"datum.value==0","value":"bottom"},"value":"middle"},"labelPadding":5,"tickSize":0,"domain":false,"title":null,"grid":true,"gridColor":"#bbbbbb","gridDash":[4,3],"gridWidth":1}},
"y2":{"datum":10}}},
{"data":{"name":"tot"},"mark":{"type":"line","strokeWidth":1,"interpolate":"linear"},"encoding":{"x":{"field":"t","type":"quantitative","axis":{"orient":"top","values":[0,50,100,150,200,250,300,350,400,450,500,550,600,650,700,750,800,850,900,950,1000,1050,1100],"labelExpr":"datum.value==0?'09:50:16':datum.value==1000?'09:50:17':datum.value>1000?format(datum.value-1000,'d'):format(datum.value,'d')","labelFont":"DejaVu Sans Mono","labelFontSize":{"condition":{"test":"datum.value==0||datum.value==1000","value":10},"value":8},"labelColor":"#000","labelPadding":6,"labelOverlap":false,"labelFlush":false,"tickSize":0,"domain":false,"title":null,"grid":false}},"y":{"field":"v","type":"quantitative","axis":{"orient":"right","values":[0,1,2,3,4,5,6,7,8,9,10],"labelExpr":"datum.value==0?'0':format(datum.value,'.1f')+'M'","labelFont":"DejaVu Sans Mono","labelFontSize":10,"labelColor":"#000","labelAlign":"right","labelBaseline":{"condition":{"test":"datum.value==0","value":"bottom"},"value":"middle"},"labelPadding":41,"tickSize":0,"domain":false,"grid":false,"title":"msg/s","titleFont":"DejaVu Sans Mono","titleFontSize":10,"titleFontWeight":"normal","titleAngle":0,"titleX":41,"titleY":-13,"titleAlign":"right","titleBaseline":"middle"}},"color":{"datum":"tot","type":"nominal","scale":{"domain":["tot","7"],"range":["#000000","#8020c0"]},"legend":{"orient":"none","legendX":-3,"legendY":-3,"title":null,"symbolType":"M-1,-0.67H1V0.67H-1Z","symbolSize":225,"symbolStrokeWidth":0,"rowPadding":-8,"labelFont":"DejaVu Sans Mono","labelFontSize":9,"labelColor":"#000","labelAlign":"center","labelOffset":8,"padding":0,"encode":{"symbols":{"update":{"fill":{"scale":"color","field":"value"},"opacity":{"value":1}}}}}}}},
{"data":{"name":"s7"},"mark":{"type":"rule","strokeWidth":1},"encoding":{"x":{"field":"t","type":"quantitative","axis":null},"y":{"field":"v","type":"quantitative","axis":null},"y2":{"datum":0},"color":{"datum":"7","type":"nominal"}}},
{"data":{"name":"cap"},"mark":{"type":"text","font":"Liberation Sans","fontStyle":"italic","fontSize":47,"baseline":"alphabetic","align":"center","color":"#a8ccf0"},"encoding":{"x":{"field":"t","type":"quantitative","axis":null},"y":{"datum":9.48,"type":"quantitative","axis":null},"text":{"field":"c"}}},
{"data":{"name":"low"},"mark":{"type":"text","font":"Liberation Sans","fontStyle":"italic","fontSize":62,"baseline":"alphabetic","align":"center","color":"#a8ccf0"},"encoding":{"x":{"field":"t","type":"quantitative","axis":null},"y":{"datum":9.48,"type":"quantitative","axis":null},"text":{"field":"c"}}}
],
"resolve":{"axis":{"y":"independent","x":"independent"},"scale":{"x":"shared","y":"shared"}}}
